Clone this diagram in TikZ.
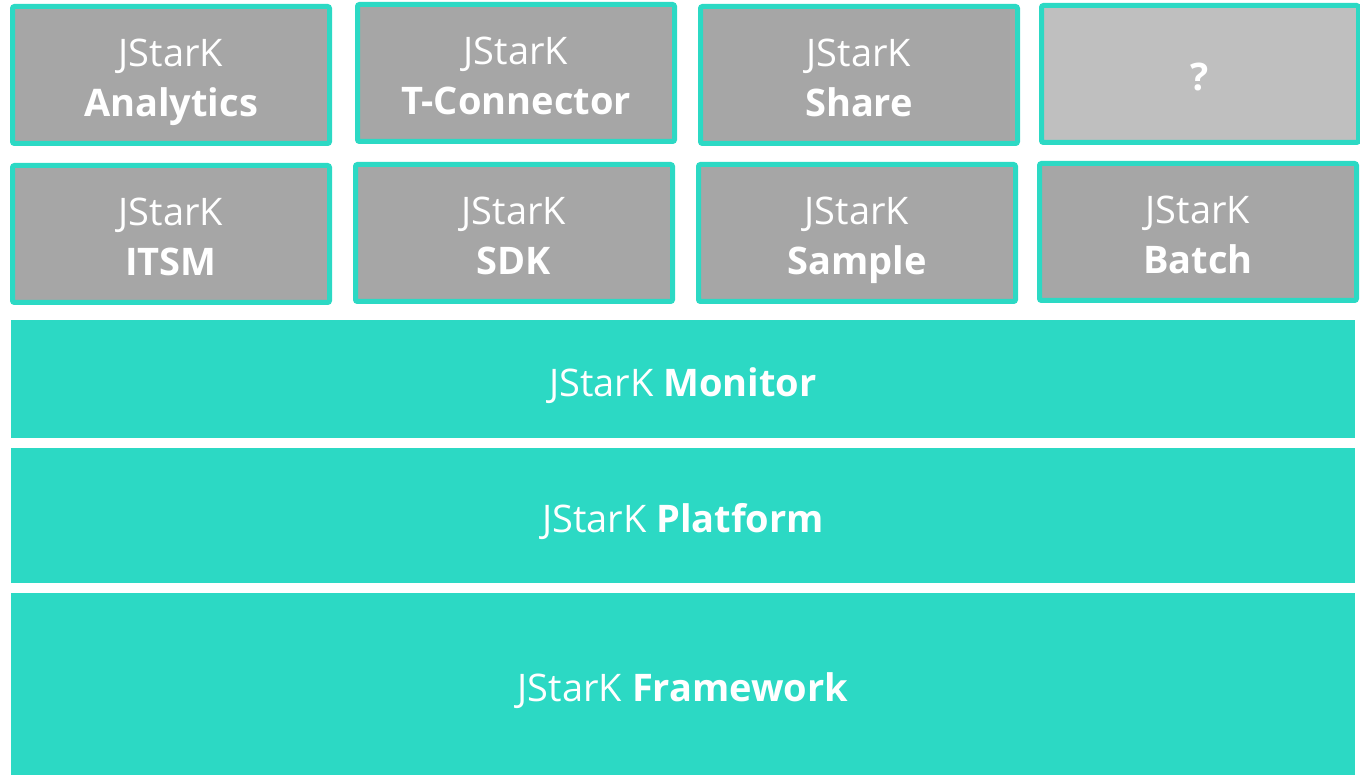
\documentclass[tikz,border=0pt]{standalone}
\usepackage{fontspec}
\setmainfont{Open Sans}
\usetikzlibrary{positioning}
\definecolor{jteal}{HTML}{2CD9C4}
\definecolor{jgray}{HTML}{A6A6A6}
\definecolor{jlight}{HTML}{BFBFBF}
\tikzset{
  module/.style = {draw=jteal, line width=5pt, fill=jgray, rounded corners=2pt,
    minimum width=317pt, minimum height=137pt, align=center, text=white,
    inner sep=0pt, text height=84pt, text depth=0pt, font=\fontsize{38}{50}\selectfont},
  layer/.style = {fill=jteal, minimum width=1344pt, align=center, text=white,
    inner sep=0pt, text height=34pt, text depth=0pt, font=\fontsize{38}{50}\selectfont},
}
\begin{document}
\begin{tikzpicture}[node distance=21pt]

	\useasboundingbox (0,0) rectangle (1360pt,-775pt);

	\node[module](analytics) at (171pt,-75pt) {JStarK\\\textbf{Analytics}};
	\node[module, right=23pt of analytics, yshift=2pt](tconnector) {JStarK\\\textbf{T-Connector}};
	\node[module, right=of tconnector, yshift=-2pt](share) {JStarK\\\textbf{Share}};
	\node[module, right=19pt of share, yshift=1pt, fill=jlight, text height=34pt](unknown) {\textbf{?}};

	\node[module, below=17pt of analytics](itsm) {JStarK\\\textbf{ITSM}};
	\node[module, right=of itsm, yshift=1pt](sdk) {JStarK\\\textbf{SDK}};
	\node[module, right=of sdk](sample) {JStarK\\\textbf{Sample}};
	\node[module, right=19pt of sample, yshift=1pt](batch) {JStarK\\\textbf{Batch}};

	\node[layer, minimum height=118pt](monitor) at (683pt,-379pt) {JStarK \textbf{Monitor}};
	\node[layer, minimum height=135pt, below=10pt of monitor](platform) {JStarK \textbf{Platform}};
	\node[layer, minimum height=183pt, below=9pt of platform](framework) {JStarK \textbf{Framework}};

\end{tikzpicture}
\end{document}
